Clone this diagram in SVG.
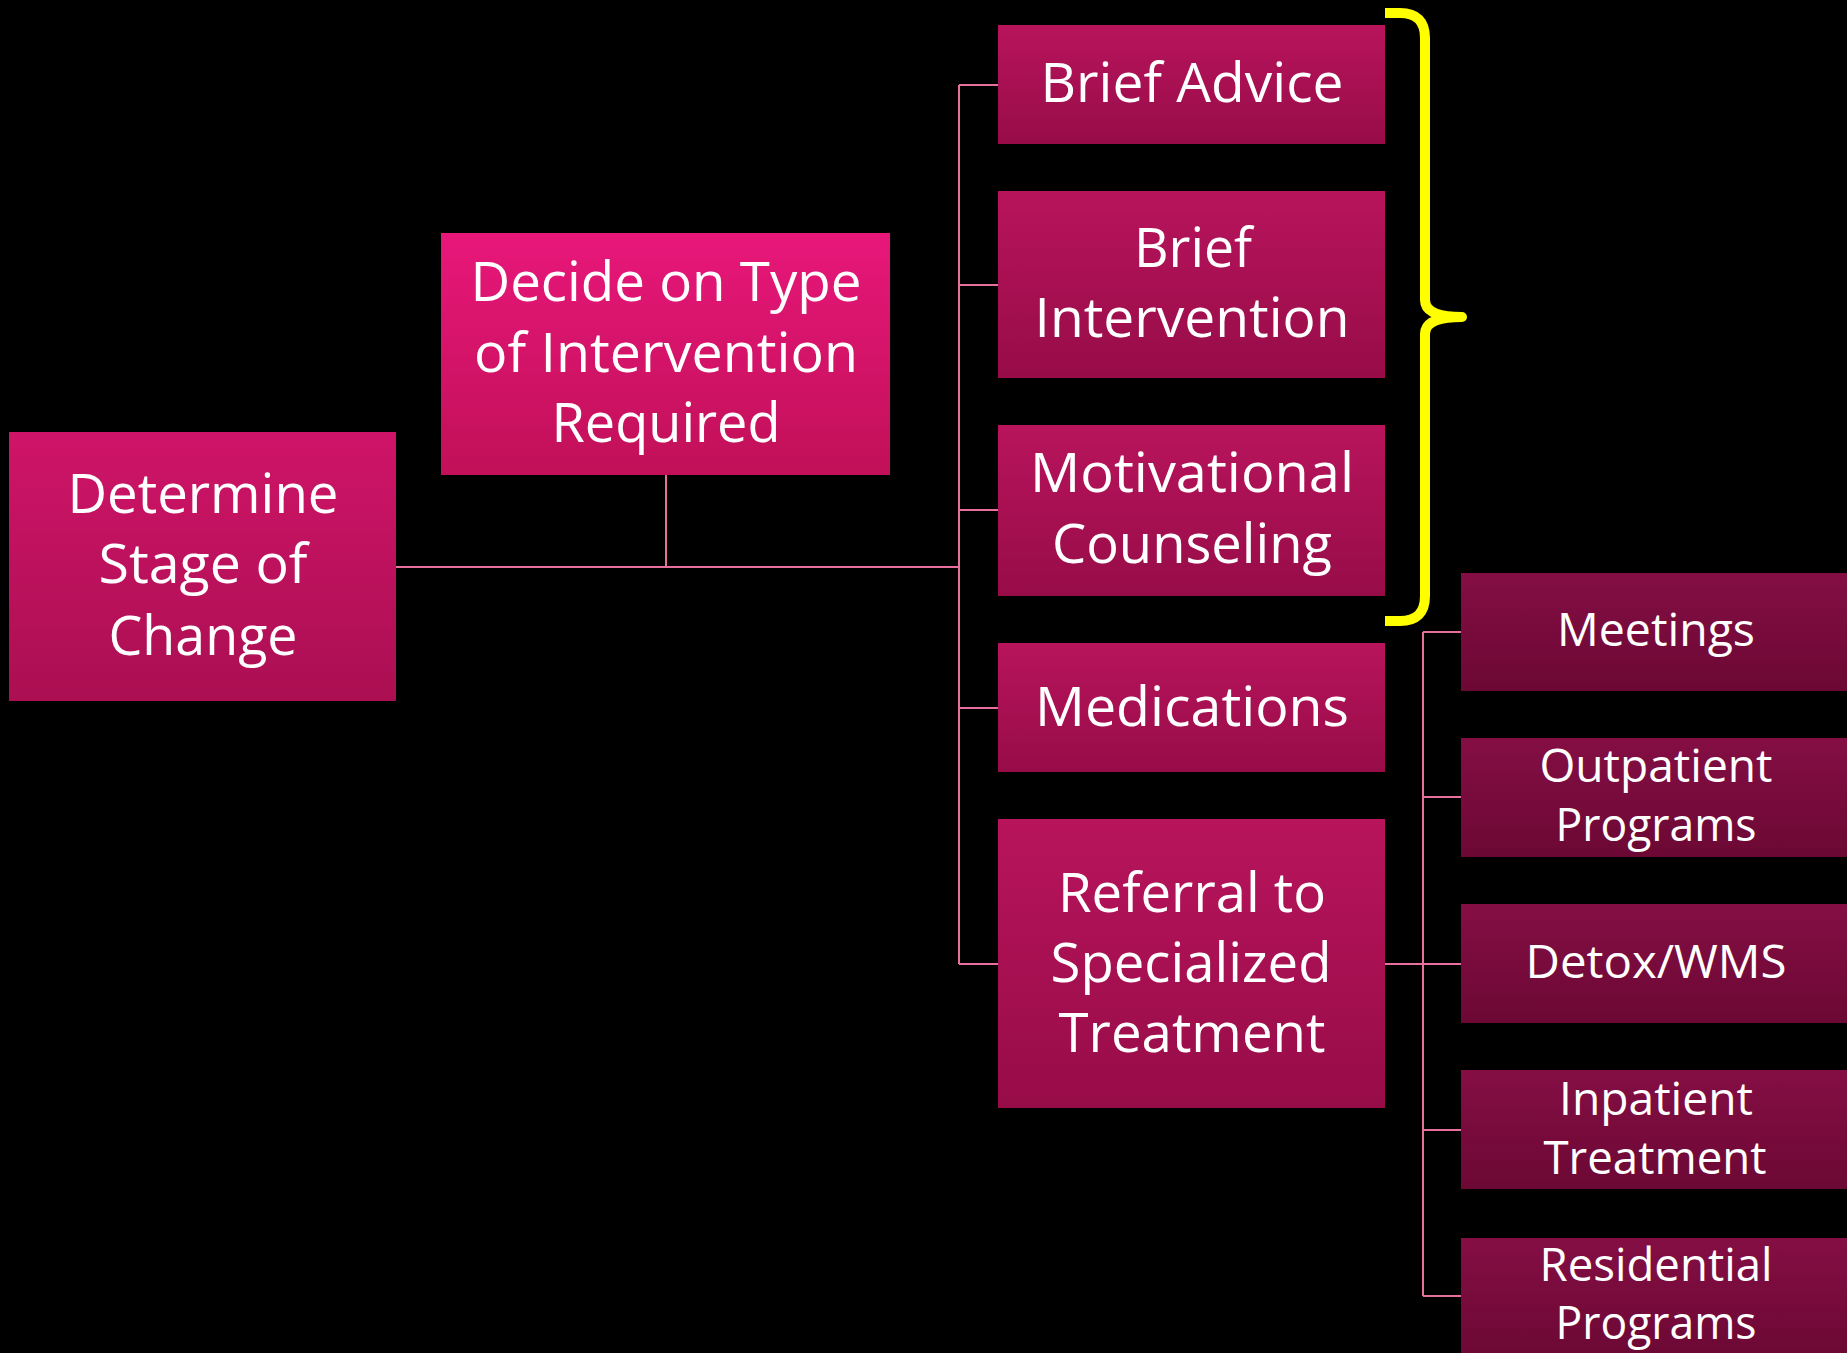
<svg xmlns="http://www.w3.org/2000/svg" width="1847" height="1353" viewBox="0 0 1847 1353">
<defs>
<linearGradient id="gDecide" x1="0" y1="0" x2="0" y2="1"><stop offset="0" stop-color="#E8177A"/><stop offset="1" stop-color="#C11058"/></linearGradient>
<linearGradient id="gDet" x1="0" y1="0" x2="0" y2="1"><stop offset="0" stop-color="#CF1468"/><stop offset="1" stop-color="#AB0F52"/></linearGradient>
<linearGradient id="gMid" x1="0" y1="0" x2="0" y2="1"><stop offset="0" stop-color="#B8145C"/><stop offset="1" stop-color="#970C48"/></linearGradient>
<linearGradient id="gRight" x1="0" y1="0" x2="0" y2="1"><stop offset="0" stop-color="#840E44"/><stop offset="1" stop-color="#6C0834"/></linearGradient>
</defs>
<style>
text{font-family:"Open Sans","Noto Sans","DejaVu Sans",sans-serif;fill:#FFFFFF;text-anchor:middle}
.big{font-size:54px}
.mid{font-size:54px}
.sm{font-size:45px}
.conn{stroke:#E8709C;stroke-width:2;fill:none}
</style>
<rect width="1847" height="1353" fill="#000000"/>
<g id="connectors">
<path class="conn" d="M396,567 H959 M666,475 V567 M959,85 V964 M959,85 H998 M959,285 H998 M959,510 H998 M959,708 H998 M959,964 H998"/>
<path class="conn" d="M1385,964 H1461 M1423,632 V1296 M1423,632 H1461 M1423,797 H1461 M1423,964 H1461 M1423,1130 H1461 M1423,1296 H1461"/>
</g>
<g id="brace">
<path d="M1385,13 H1400 Q1425,13 1425,38 V300 Q1425,317 1462,317 Q1425,317 1425,334 V596 Q1425,621 1400,621 H1385" fill="none" stroke="#FFFF00" stroke-width="10" stroke-linejoin="round"/>
</g>
<g id="determine">
<rect x="9" y="432" width="387" height="269" fill="url(#gDet)"/>
<text class="big" x="203" y="513" textLength="271" lengthAdjust="spacingAndGlyphs">Determine</text>
<text class="big" x="203" y="583" textLength="209" lengthAdjust="spacingAndGlyphs">Stage of</text>
<text class="big" x="203" y="655" textLength="189" lengthAdjust="spacingAndGlyphs">Change</text>
</g>
<g id="decide">
<rect x="441" y="233" width="449" height="242" fill="url(#gDecide)"/>
<text class="big" x="666" y="301" textLength="391" lengthAdjust="spacingAndGlyphs">Decide on Type</text>
<text class="big" x="666" y="372" textLength="384" lengthAdjust="spacingAndGlyphs">of Intervention</text>
<text class="big" x="666" y="442" textLength="229" lengthAdjust="spacingAndGlyphs">Required</text>
</g>
<g id="brief-advice">
<rect x="998" y="25" width="387" height="119" fill="url(#gMid)"/>
<text class="mid" x="1192" y="102" textLength="303" lengthAdjust="spacingAndGlyphs">Brief Advice</text>
</g>
<g id="brief-intervention">
<rect x="998" y="191" width="387" height="187" fill="url(#gMid)"/>
<text class="mid" x="1193" y="267" textLength="118" lengthAdjust="spacingAndGlyphs">Brief</text>
<text class="mid" x="1192" y="337" textLength="315" lengthAdjust="spacingAndGlyphs">Intervention</text>
</g>
<g id="motivational-counseling">
<rect x="998" y="425" width="387" height="171" fill="url(#gMid)"/>
<text class="mid" x="1192" y="492" textLength="324" lengthAdjust="spacingAndGlyphs">Motivational</text>
<text class="mid" x="1192" y="563" textLength="280" lengthAdjust="spacingAndGlyphs">Counseling</text>
</g>
<g id="medications">
<rect x="998" y="643" width="387" height="129" fill="url(#gMid)"/>
<text class="mid" x="1192" y="726" textLength="314" lengthAdjust="spacingAndGlyphs">Medications</text>
</g>
<g id="referral">
<rect x="998" y="819" width="387" height="289" fill="url(#gMid)"/>
<text class="mid" x="1192" y="912" textLength="268" lengthAdjust="spacingAndGlyphs">Referral to</text>
<text class="mid" x="1191" y="982" textLength="281" lengthAdjust="spacingAndGlyphs">Specialized</text>
<text class="mid" x="1192" y="1052" textLength="267" lengthAdjust="spacingAndGlyphs">Treatment</text>
</g>
<g id="meetings">
<rect x="1461" y="573" width="390" height="118" fill="url(#gRight)"/>
<text class="sm" x="1656" y="646" textLength="198" lengthAdjust="spacingAndGlyphs">Meetings</text>
</g>
<g id="outpatient">
<rect x="1461" y="738" width="390" height="119" fill="url(#gRight)"/>
<text class="sm" x="1656" y="782" textLength="233" lengthAdjust="spacingAndGlyphs">Outpatient</text>
<text class="sm" x="1656" y="841" textLength="201" lengthAdjust="spacingAndGlyphs">Programs</text>
</g>
<g id="detox">
<rect x="1461" y="904" width="390" height="119" fill="url(#gRight)"/>
<text class="sm" x="1656" y="978" textLength="261" lengthAdjust="spacingAndGlyphs">Detox/WMS</text>
</g>
<g id="inpatient">
<rect x="1461" y="1070" width="390" height="119" fill="url(#gRight)"/>
<text class="sm" x="1656" y="1115" textLength="194" lengthAdjust="spacingAndGlyphs">Inpatient</text>
<text class="sm" x="1655" y="1174" textLength="223" lengthAdjust="spacingAndGlyphs">Treatment</text>
</g>
<g id="residential">
<rect x="1461" y="1238" width="390" height="119" fill="url(#gRight)"/>
<text class="sm" x="1656" y="1281" textLength="233" lengthAdjust="spacingAndGlyphs">Residential</text>
<text class="sm" x="1656" y="1339" textLength="201" lengthAdjust="spacingAndGlyphs">Programs</text>
</g>
</svg>
